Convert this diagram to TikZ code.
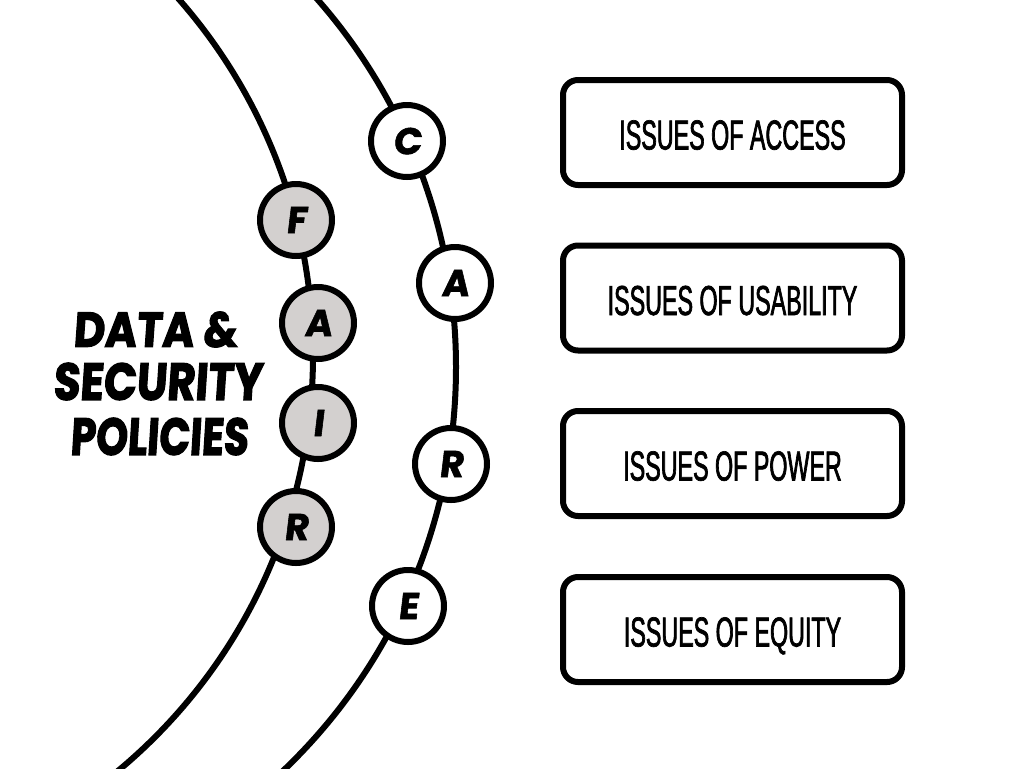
\documentclass[tikz,border=0pt]{standalone}
\usepackage{fontspec}
\usepackage{graphicx}
\newfontfamily\boxfont[FakeStretch=0.556,FakeBold=1.6]{Liberation Sans}
\newfontfamily\letterfont[BoldFeatures={FakeSlant=0.12,FakeBold=1.5}]{Poppins}
\newfontfamily\titlefont[BoldFeatures={FakeSlant=0.08,FakeBold=2.6}]{Poppins}
\definecolor{circgrey}{RGB}{211,208,207}
\begin{document}
\begin{tikzpicture}[x=0.75pt,y=-0.75pt]
\tikzset{
  arcline/.style={line width=4.5pt},
  ring/.style={circle, draw, line width=4.5pt, minimum size=54pt, inner sep=0pt,
    text depth=0pt, font=\letterfont\bfseries\fontsize{28}{28}\selectfont},
  fairring/.style={ring, fill=circgrey},
  carering/.style={ring, fill=white},
  issuebox/.style={draw, line width=4.5pt, rounded corners=11.25pt,
    minimum width=254.25pt, minimum height=78.75pt, inner sep=0pt, fill=white,
    text height=25.5pt, text depth=0pt, font=\boxfont\fontsize{31.4}{31.4}\selectfont},
  titleline/.style={inner sep=0pt, font=\titlefont\bfseries}
}
\useasboundingbox (0,0) rectangle (1024,768);
\fill[white] (0,0) rectangle (1024,768);
% arcs
\begin{scope}
  \clip (0,0) rectangle (1024,768);
  \draw[arcline] (-227,355.4) circle[radius=405pt];
  \draw[arcline] (-101.4,367.2) circle[radius=418.05pt];
\end{scope}
% FAIR circles
\node[fairring] (f1) at (296,220) {F};
\node[fairring] (f2) at (318,323) {A};
\node[fairring] (f3) at (318,423) {I};
\node[fairring] (f4) at (296,527) {R};
% CARE circles
\node[carering] (c1) at (407,141) {C};
\node[carering] (c2) at (455,283) {A};
\node[carering] (c3) at (451,464) {R};
\node[carering] (c4) at (408,606) {E};
% issue boxes
\node[issuebox] (b1) at (732.5,132.5) {ISSUES OF ACCESS};
\node[issuebox] (b2) at (732.5,298) {ISSUES OF USABILITY};
\node[issuebox] (b3) at (732.5,463.5) {ISSUES OF POWER};
\node[issuebox] (b4) at (732.5,629.5) {ISSUES OF EQUITY};
% title
\node[titleline] (t1) at (155,329.5) {\resizebox{123pt}{26.25pt}{DATA \&}};
\node[titleline] (t2) at (157.5,381.5) {\resizebox{156.75pt}{27.75pt}{SECURITY}};
\node[titleline] (t3) at (159,436.5) {\resizebox{133.5pt}{27.75pt}{POLICIES}};
\end{tikzpicture}
\end{document}
